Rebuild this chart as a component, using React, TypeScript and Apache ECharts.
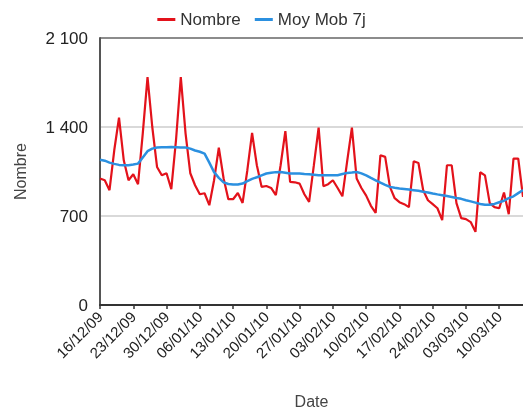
import { useEffect, useRef } from 'react'
import * as echarts from 'echarts'

// daily counts from 16/12/09
const startDate = new Date(2009, 11, 16)

const nombre = [
  995, 981, 903, 1217, 1473, 1138, 981, 1028, 950, 1350,
  1792, 1400, 1086, 1020, 1036, 911, 1300, 1792, 1350, 1036,
  942, 871, 879, 785, 981, 1238, 997, 832, 832, 881,
  803, 1060, 1353, 1099, 929, 936, 921, 864, 1099, 1368,
  968, 965, 955, 871, 811, 1100, 1395, 934, 950, 981,
  920, 855, 1130, 1395, 995, 920, 860, 780, 725, 1178,
  1165, 929, 840, 809, 793, 770, 1130, 1117, 903, 824,
  793, 761, 667, 1099, 1099, 801, 683, 675, 652, 575,
  1044, 1020, 801, 770, 761, 885, 714, 1152, 1152, 850,
]

const moyMob7j = [
  1143, 1135, 1120, 1110, 1102, 1099, 1100, 1105, 1112, 1160,
  1210, 1230, 1238, 1240, 1240, 1242, 1240, 1238, 1238, 1230,
  1215, 1205, 1191, 1120, 1045, 1000, 965, 952, 948, 947,
  955, 975, 992, 1005, 1020, 1034, 1040, 1045, 1046, 1040,
  1034, 1034, 1034, 1030, 1028, 1025, 1020, 1020, 1020, 1020,
  1020, 1030, 1039, 1042, 1046, 1035, 1020, 1000, 981, 962,
  945, 929, 922, 916, 913, 908, 903, 898, 890, 885,
  877, 870, 864, 857, 850, 842, 835, 824, 815, 805,
  795, 788, 788, 795, 808, 820, 840, 855, 880, 905,
]

const pad = (n: number) => (n < 10 ? '0' + n : '' + n)

const dates = nombre.map((_, i) => {
  const d = new Date(startDate.getFullYear(), startDate.getMonth(), startDate.getDate() + i)
  return `${pad(d.getDate())}/${pad(d.getMonth() + 1)}/${pad(d.getFullYear() % 100)}`
})

const font = '"Liberation Sans", Arial, sans-serif'

export default function App() {
  const chartRef = useRef<HTMLDivElement>(null)

  useEffect(() => {
    if (!chartRef.current) return

    const chart = echarts.init(chartRef.current, null, { renderer: 'svg' })

    const option = {
      animation: false,
      textStyle: { fontFamily: font },
      legend: {
        top: 6,
        left: 'center',
        itemWidth: 18,
        itemHeight: 3,
        itemGap: 14,
        icon: 'rect',
        textStyle: { fontFamily: font, fontSize: 17, color: '#333' },
        data: ['Nombre', 'Moy Mob 7j'],
      },
      grid: {
        left: 100,
        right: 0,
        top: 38,
        bottom: 109,
      },
      xAxis: {
        type: 'category',
        boundaryGap: false,
        data: dates,
        name: 'Date',
        nameLocation: 'middle',
        nameGap: 88,
        nameTextStyle: { fontFamily: font, fontSize: 16, color: '#444' },
        axisLine: { lineStyle: { color: '#333', width: 2 } },
        axisTick: { interval: 6, length: 4, lineStyle: { color: '#333', width: 1.5 } },
        axisLabel: {
          interval: 6,
          rotate: 45,
          margin: 9,
          fontFamily: font,
          fontSize: 15,
          color: '#222',
        },
        splitLine: { show: false },
      },
      yAxis: {
        type: 'value',
        min: 0,
        max: 2100,
        interval: 700,
        name: 'Nombre',
        nameLocation: 'middle',
        nameGap: 72,
        nameTextStyle: { fontFamily: font, fontSize: 16, color: '#444' },
        axisLine: { show: true, lineStyle: { color: '#555', width: 2 } },
        axisTick: { show: false },
        axisLabel: {
          margin: 12,
          fontFamily: font,
          fontSize: 17,
          color: '#222',
          formatter: (v: number) => (v >= 1000 ? `${Math.floor(v / 1000)} ${String(v % 1000).padStart(3, '0')}` : `${v}`),
        },
        splitLine: {
          lineStyle: { color: ['#ccc', '#ccc', '#ccc', '#666'], width: 1.5 },
        },
      },
      series: [
        {
          name: 'Nombre',
          type: 'line',
          data: nombre,
          showSymbol: false,
          itemStyle: { color: '#e3121b' },
          lineStyle: { color: '#e3121b', width: 2.2 },
        },
        {
          name: 'Moy Mob 7j',
          type: 'line',
          data: moyMob7j,
          showSymbol: false,
          itemStyle: { color: '#2b90e0' },
          lineStyle: { color: '#2b90e0', width: 2.5 },
        },
      ],
    }

    chart.setOption(option)

    return () => {
      chart.dispose()
    }
  }, [])

  return (
    <div
      ref={chartRef}
      style={{ position: 'fixed', left: 0, top: 0, width: 523, height: 414 }}
    />
  )
}
